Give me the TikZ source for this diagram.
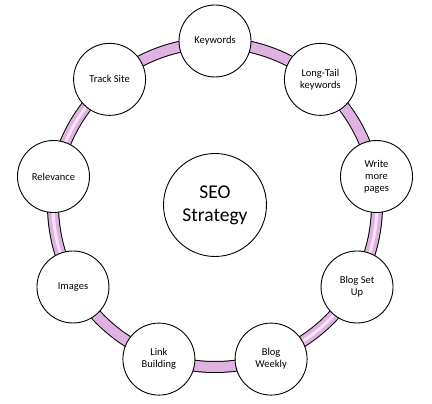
\documentclass[tikz,border=0pt]{standalone}
\usepackage{fontspec}
\setmainfont{Carlito}
\usetikzlibrary{calc}
\definecolor{ringpink}{RGB}{224,178,226}
\definecolor{ringlight}{RGB}{246,228,247}
\begin{document}
\begin{tikzpicture}[x=1pt,y=1pt,
  item/.style={circle,draw=black,line width=0.9pt,fill=white,minimum size=72pt,inner sep=0pt,align=center,font=\fontsize{10.5}{12}\selectfont},
  hub/.style={circle,draw=black,line width=0.9pt,fill=white,minimum size=103pt,inner sep=0pt,align=center,font=\fontsize{19.5}{23}\selectfont},
  band/.style={line width=12pt,black},
  bandfill/.style={line width=10pt,ringpink},
  bandlight/.style={line width=3pt,ringlight}]
\useasboundingbox (0,0) rectangle (432,404);
\coordinate (c) at (215,199);
% ring
\draw[band] (c) circle[radius=162];
\draw[bandfill] (c) circle[radius=162];
\draw[bandlight,shift={(215,199)}] (130:162) arc[start angle=130,end angle=212,radius=162];
\draw[bandlight,shift={(215,199)}] (-72:162) arc[start angle=-72,end angle=12,radius=162];
% nodes
\node[hub] (seo) at (c) {SEO\\Strategy};
\node[item] (kw) at ($(c)+(90:164)$) {Keywords};
\node[item] (lt) at ($(c)+(50:164)$) {Long-Tail\\keywords};
\node[item] (wm) at ($(c)+(10:164)$) {Write\\more\\pages};
\node[item] (bs) at ($(c)+(-30:164)$) {Blog Set\\Up};
\node[item] (bw) at ($(c)+(-70:164)$) {Blog\\Weekly};
\node[item] (lb) at ($(c)+(-110:164)$) {Link\\Building};
\node[item] (im) at ($(c)+(-150:164)$) {Images};
\node[item] (rl) at ($(c)+(170:164)$) {Relevance};
\node[item] (ts) at ($(c)+(130:164)$) {Track Site};
\end{tikzpicture}
\end{document}
